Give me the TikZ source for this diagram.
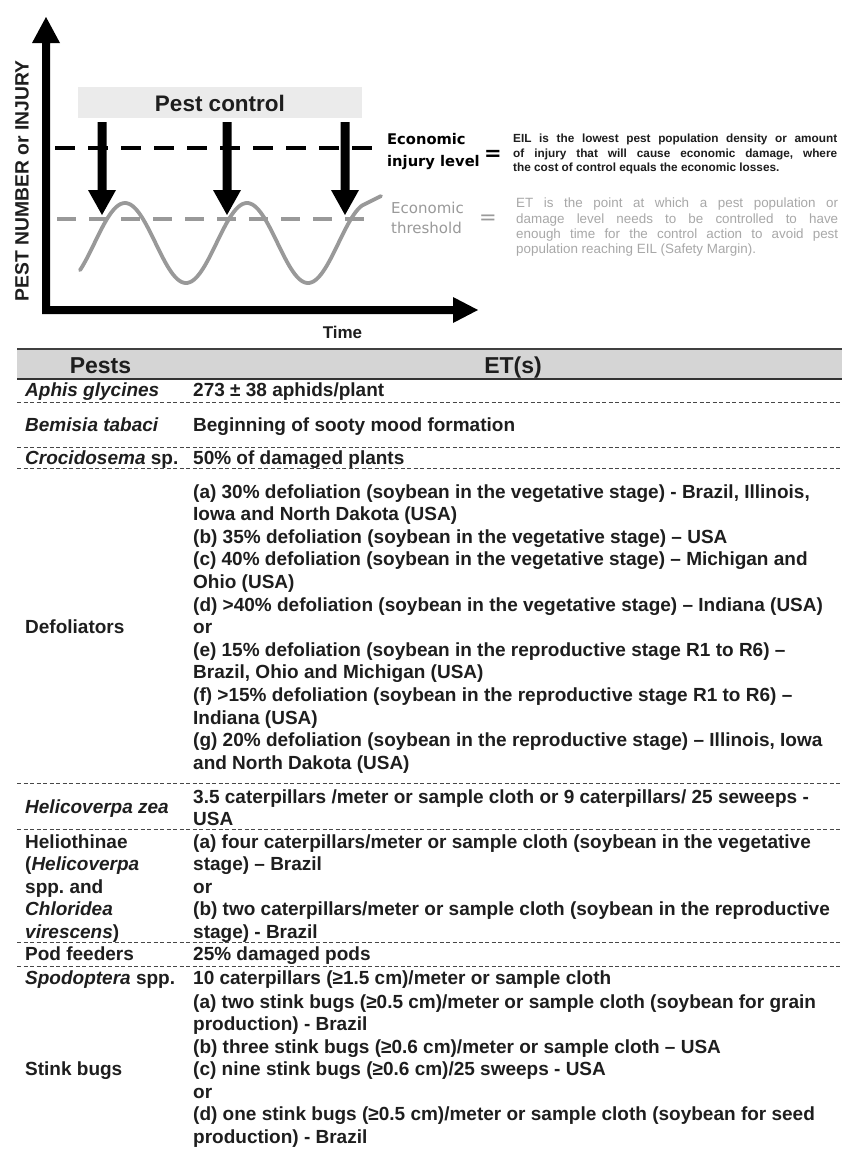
\documentclass[tikz,border=0pt]{standalone}
\usepackage{fontspec}
\setmainfont{Liberation Sans}
\newfontfamily\djv{DejaVu Sans}
\frenchspacing
\definecolor{etgray}{HTML}{9A9A9A}
\definecolor{etdesc}{HTML}{A8A8A8}
\definecolor{wavegray}{HTML}{999999}
\definecolor{boxgray}{HTML}{EBEBEB}
\definecolor{headgray}{HTML}{D5D5D5}
\definecolor{ink}{HTML}{1E1E1E}
\newcommand\RL[3]{\node[bodytxt] (#1) at (193,#2) {#3};}
\newcommand\LL[3]{\node[bodytxt] (#1) at (25,#2) {#3};}
\newcommand\SepLine[2]{\coordinate (#1a) at (17,#2); \coordinate (#1b) at (842,#2); \draw[sepline] (#1a) -- (#1b);}
\newcommand\DownArrow[2]{%
  \coordinate (#1) at (#2,215);
  \fill[black] (#2-4.5,122) -- (#2+4.5,122) -- (#2+4.5,190) -- (#2+14,190) -- (#1) -- (#2-14,190) -- (#2-4.5,190) -- cycle;}
\begin{document}
\frenchspacing
\begin{tikzpicture}[x=1pt,y=-1pt,
  bodytxt/.style={font=\fontsize{19}{22.5}\selectfont\bfseries\frenchspacing, inner sep=0pt, anchor=base west, text=ink},
  headtxt/.style={font=\fontsize{23}{26}\selectfont\bfseries, inner sep=0pt, anchor=base, text=ink},
  sepline/.style={draw=black!72, line width=0.9pt, dash pattern=on 4pt off 2.5pt},
  eiltxt/.style={font=\djv\bfseries\fontsize{14.7}{18}\selectfont, inner sep=0pt, anchor=base west, text=black},
  ettxt/.style={font=\djv\fontsize{15}{18}\selectfont, inner sep=0pt, anchor=base west, text=etgray},
  eildesc/.style={font=\fontsize{11.8}{15}\selectfont\bfseries, inner sep=0pt, anchor=base west, text=ink},
  etdescs/.style={font=\fontsize{13.4}{15}\selectfont, inner sep=0pt, anchor=base west, text=etdesc},
  wave/.style={draw=wavegray, line width=3.8pt, line cap=round},
]
\useasboundingbox (0,0) rectangle (842,1175);
\fill[white] (0,0) rectangle (842,1175);

% ---------- graph ----------
\node[fill=boxgray, minimum width=284pt, minimum height=31pt, inner sep=0pt] (pc) at (220,102.5) {};
\node[font=\fontsize{22.5}{24}\selectfont\bfseries, text=ink, inner sep=0pt] (pctxt) at (220,103.5) {Pest control};

\coordinate (eilA) at (55,148); \coordinate (eilB) at (375,148);
\draw[black, line width=4.5pt, dash pattern=on 20pt off 13pt] (eilA) -- (eilB);
\coordinate (etA) at (57,219); \coordinate (etB) at (377,219);
\draw[wavegray, line width=3.5pt, dash pattern=on 19pt off 13pt] (etA) -- (etB);

\draw[wave] plot[domain=80:362, samples=140, smooth] (\x, {243-40*cos(2.95082*(\x-125))}) .. controls (371,200) .. (381,196);

\DownArrow{t1}{102}
\DownArrow{t2}{227}
\DownArrow{t3}{345}

% axes
\coordinate (origin) at (46,310);
\fill[black] (42,314) -- (42,43) -- (32,43) -- (46,17) -- (60,43) -- (50,43) -- (50,306) -- (453,306) -- (453,297) -- (478,310) -- (453,323) -- (453,314) -- cycle;

\node[rotate=90, font=\fontsize{19.3}{20}\selectfont\bfseries, text=ink, inner sep=0pt] (ylab) at (22,181) {PEST NUMBER or INJURY};
\node[font=\fontsize{17}{20}\selectfont\bfseries, text=ink, inner sep=0pt] (xlab) at (342.5,332.5) {Time};

% legend
\node[eiltxt] (eil1) at (387,144) {Economic};
\node[eiltxt] (eil2) at (387,166) {injury level};
\node[font=\djv\bfseries\fontsize{21}{22}\selectfont, inner sep=0pt] (eq1) at (493,155) {=};
\node[ettxt] (et1) at (391,213) {Economic};
\node[ettxt] (et2) at (391,233) {threshold};
\node[font=\djv\fontsize{21}{22}\selectfont, text=etgray, inner sep=0pt] (eq2) at (488,220) {=};

\node[eildesc] (ed1) at (513,142) {\makebox[324pt][s]{EIL is the lowest pest population density or amount}};
\node[eildesc] (ed2) at (513,157) {\makebox[324pt][s]{of injury that will cause economic damage, where}};
\node[eildesc] (ed3) at (513,171) {the cost of control equals the economic losses.};

\node[etdescs] (td1) at (516,207.5) {\makebox[322pt][s]{ET is the point at which a pest population or}};
\node[etdescs] (td2) at (516,223) {\makebox[322pt][s]{damage level needs to be controlled to have}};
\node[etdescs] (td3) at (516,238) {\makebox[322pt][s]{enough time for the control action to avoid pest}};
\node[etdescs] (td4) at (516,253.5) {population reaching EIL (Safety Margin).};

% ---------- table ----------
\fill[headgray] (17,349) rectangle (842,379);
\coordinate (topA) at (17,349); \coordinate (topB) at (842,349);
\draw[black!75, line width=2pt] (topA) -- (topB);
\coordinate (hA) at (17,379); \coordinate (hB) at (842,379);
\draw[black!80, line width=1.2pt] (hA) -- (hB);
\node[headtxt] (hpests) at (100.5,373) {Pests};
\node[headtxt] (hets) at (513,373) {ET(s)};

\LL{l1}{396}{\itshape Aphis glycines}
\RL{r1}{396}{273 ± 38 aphids/plant}
\SepLine{s1}{402}
\LL{l2}{431}{\itshape Bemisia tabaci}
\RL{r2}{431}{Beginning of sooty mood formation}
\SepLine{s2}{447}
\LL{l3}{464}{\textit{Crocidosema} sp.}
\RL{r3}{464}{50\% of damaged plants}
\SepLine{s3}{468}

\LL{l4}{633.6}{Defoliators}
\RL{d1}{498}{(a) 30\% defoliation (soybean in the vegetative stage) - Brazil, Illinois,}
\RL{d2}{520.6}{Iowa and North Dakota (USA)}
\RL{d3}{543.2}{(b) 35\% defoliation (soybean in the vegetative stage) – USA}
\RL{d4}{565.8}{(c) 40\% defoliation (soybean in the vegetative stage) – Michigan and}
\RL{d5}{588.4}{Ohio (USA)}
\RL{d6}{611}{(d) >40\% defoliation (soybean in the vegetative stage) – Indiana (USA)}
\RL{d7}{633.6}{or}
\RL{d8}{656.2}{(e) 15\% defoliation (soybean in the reproductive stage R1 to R6) –}
\RL{d9}{678.8}{Brazil, Ohio and Michigan (USA)}
\RL{d10}{701.4}{(f) >15\% defoliation (soybean in the reproductive stage R1 to R6) –}
\RL{d11}{724}{Indiana (USA)}
\RL{d12}{746.6}{(g) 20\% defoliation (soybean in the reproductive stage) – Illinois, Iowa}
\RL{d13}{769.2}{and North Dakota (USA)}
\SepLine{s4}{783}

\LL{l5}{813}{\itshape Helicoverpa zea}
\RL{h1}{803.5}{3.5 caterpillars /meter or sample cloth or 9 caterpillars/ 25 seweeps -}
\RL{h2}{825}{USA}
\SepLine{s5}{829}

\LL{l6a}{848}{Heliothinae}
\LL{l6b}{870.5}{(\textit{Helicoverpa}}
\LL{l6c}{893}{spp. and}
\LL{l6d}{915.5}{\textit{Chloridea}}
\LL{l6e}{938}{\textit{virescens})}
\RL{e1}{848}{(a) four caterpillars/meter or sample cloth (soybean in the vegetative}
\RL{e2}{870.5}{stage) – Brazil}
\RL{e3}{893}{or}
\RL{e4}{915.5}{(b) two caterpillars/meter or sample cloth (soybean in the reproductive}
\RL{e5}{938}{stage) - Brazil}
\SepLine{s6}{942}

\LL{l7}{960}{Pod feeders}
\RL{p1}{960}{25\% damaged pods}
\SepLine{s7}{966}

\LL{l8}{984}{\textit{Spodoptera} spp.}
\RL{sp1}{984}{10 caterpillars (≥1.5 cm)/meter or sample cloth}

\LL{l9}{1075.5}{Stink bugs}
\RL{k1}{1008}{(a) two stink bugs (≥0.5 cm)/meter or sample cloth (soybean for grain}
\RL{k2}{1030.5}{production) - Brazil}
\RL{k3}{1053}{(b) three stink bugs (≥0.6 cm)/meter or sample cloth – USA}
\RL{k4}{1075.5}{(c) nine stink bugs (≥0.6 cm)/25 sweeps - USA}
\RL{k5}{1098}{or}
\RL{k6}{1120.5}{(d) one stink bugs (≥0.5 cm)/meter or sample cloth (soybean for seed}
\RL{k7}{1143}{production) - Brazil}
\end{tikzpicture}
\end{document}
